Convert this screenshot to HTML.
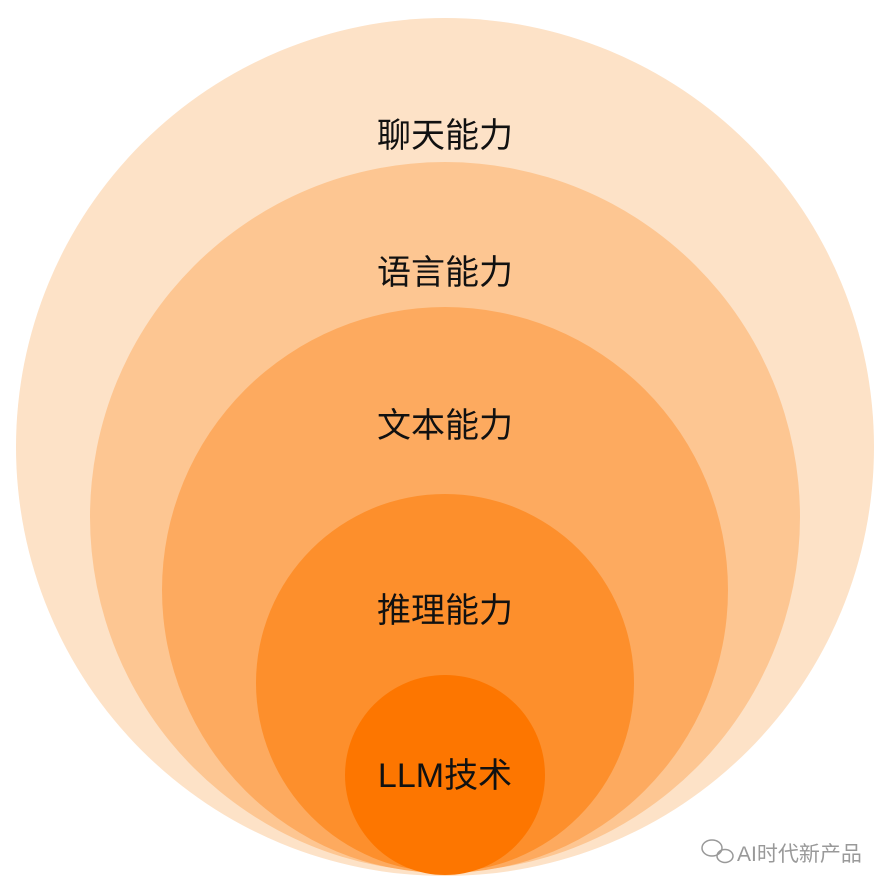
<!DOCTYPE html>
<html><head><meta charset="utf-8"><style>
html,body{margin:0;padding:0;background:#fff;}
body{width:895px;height:891px;overflow:hidden;position:relative;}
svg{position:absolute;left:0;top:0;}
</style></head><body>
<svg width="895" height="891" xmlns="http://www.w3.org/2000/svg">
<circle cx="445" cy="447" r="429" fill="#fde2c7"/>
<circle cx="445" cy="517" r="355" fill="#fdc692"/>
<circle cx="445" cy="590" r="283" fill="#fdaa5f"/>
<circle cx="445" cy="683" r="189" fill="#fd8f2c"/>
<circle cx="445" cy="775" r="100" fill="#fd7600"/>
<g font-family="'Liberation Sans','Noto Sans CJK SC',sans-serif" font-size="34" fill="#111" text-anchor="middle">
<text x="445" y="147">聊天能力</text>
<text x="445" y="284">语言能力</text>
<text x="445" y="437">文本能力</text>
<text x="445" y="622">推理能力</text>
<text x="445" y="787">LLM技术</text>
</g>
<g fill="none" stroke="#999" stroke-width="1.5">
<ellipse cx="712" cy="848" rx="10" ry="8"/>
<ellipse cx="725" cy="856" rx="8" ry="6.5"/>
</g>
<text x="737" y="861" font-family="'Liberation Sans','Noto Sans CJK SC',sans-serif" font-size="21" fill="#999">AI时代新产品</text>
</svg>
</body></html>
